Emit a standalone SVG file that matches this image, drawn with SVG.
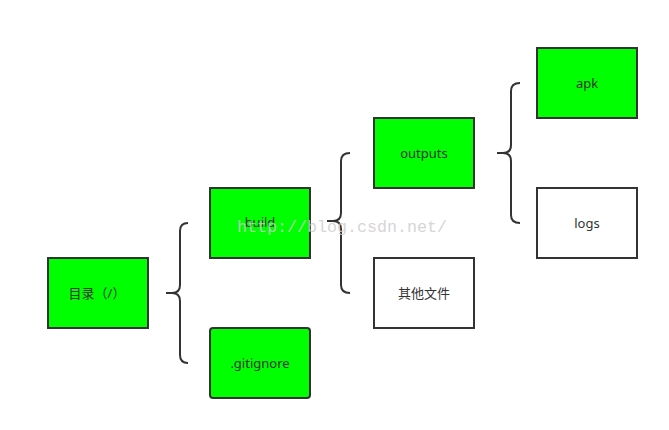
<svg xmlns="http://www.w3.org/2000/svg" width="669" height="430" viewBox="0 0 669 430">
<style>
.box{stroke:#333;stroke-width:2}
.g{fill:#00ff00}
.w{fill:#ffffff}
.t{font-family:"Noto Sans","Noto Sans CJK SC",sans-serif;font-size:13px;fill:#333;text-anchor:middle;dominant-baseline:central}
.br{fill:none;stroke:#333;stroke-width:2}
.wm{font-family:"Liberation Mono","DejaVu Sans Mono",monospace;font-size:16px;fill:#cccccc;opacity:0.8}
</style>
<rect width="669" height="430" fill="#ffffff"/>
<g id="connectors">
<path class="br" d="M188,223 Q180,223 180,231 V285 Q180,293 172,293 H166 H172 Q180,293 180,301 V355 Q180,363 188,363"/>
<path class="br" d="M350,153 Q341,153 341,161 V213 Q341,221 333,221 H327 H333 Q341,221 341,229 V285 Q341,293 350,293"/>
<path class="br" d="M520,83 Q511,83 511,91 V145 Q511,153 503,153 H497 H503 Q511,153 511,161 V215 Q511,223 520,223"/>
</g>
<g id="root"><rect class="box g" x="48" y="258" width="100" height="70"/><text class="t" x="97" y="293">目录（/）</text></g>
<g id="build"><rect class="box g" x="210" y="188" width="100" height="70"/><text class="t" x="260" y="222">build</text></g>
<g id="gitignore"><rect class="box g" x="210" y="328" width="100" height="70" rx="3"/><text class="t" x="260" y="363">.gitignore</text></g>
<g id="outputs"><rect class="box g" x="374" y="118" width="100" height="70"/><text class="t" x="424" y="153">outputs</text></g>
<g id="other"><rect class="box w" x="374" y="258" width="100" height="70"/><text class="t" x="424" y="293">其他文件</text></g>
<g id="apk"><rect class="box g" x="537" y="48" width="100" height="70"/><text class="t" x="587" y="83">apk</text></g>
<g id="logs"><rect class="box w" x="537" y="188" width="100" height="70"/><text class="t" x="587" y="223">logs</text></g>
<text class="wm" x="237" y="232" textLength="210" lengthAdjust="spacingAndGlyphs">http://blog.csdn.net/</text>
</svg>
